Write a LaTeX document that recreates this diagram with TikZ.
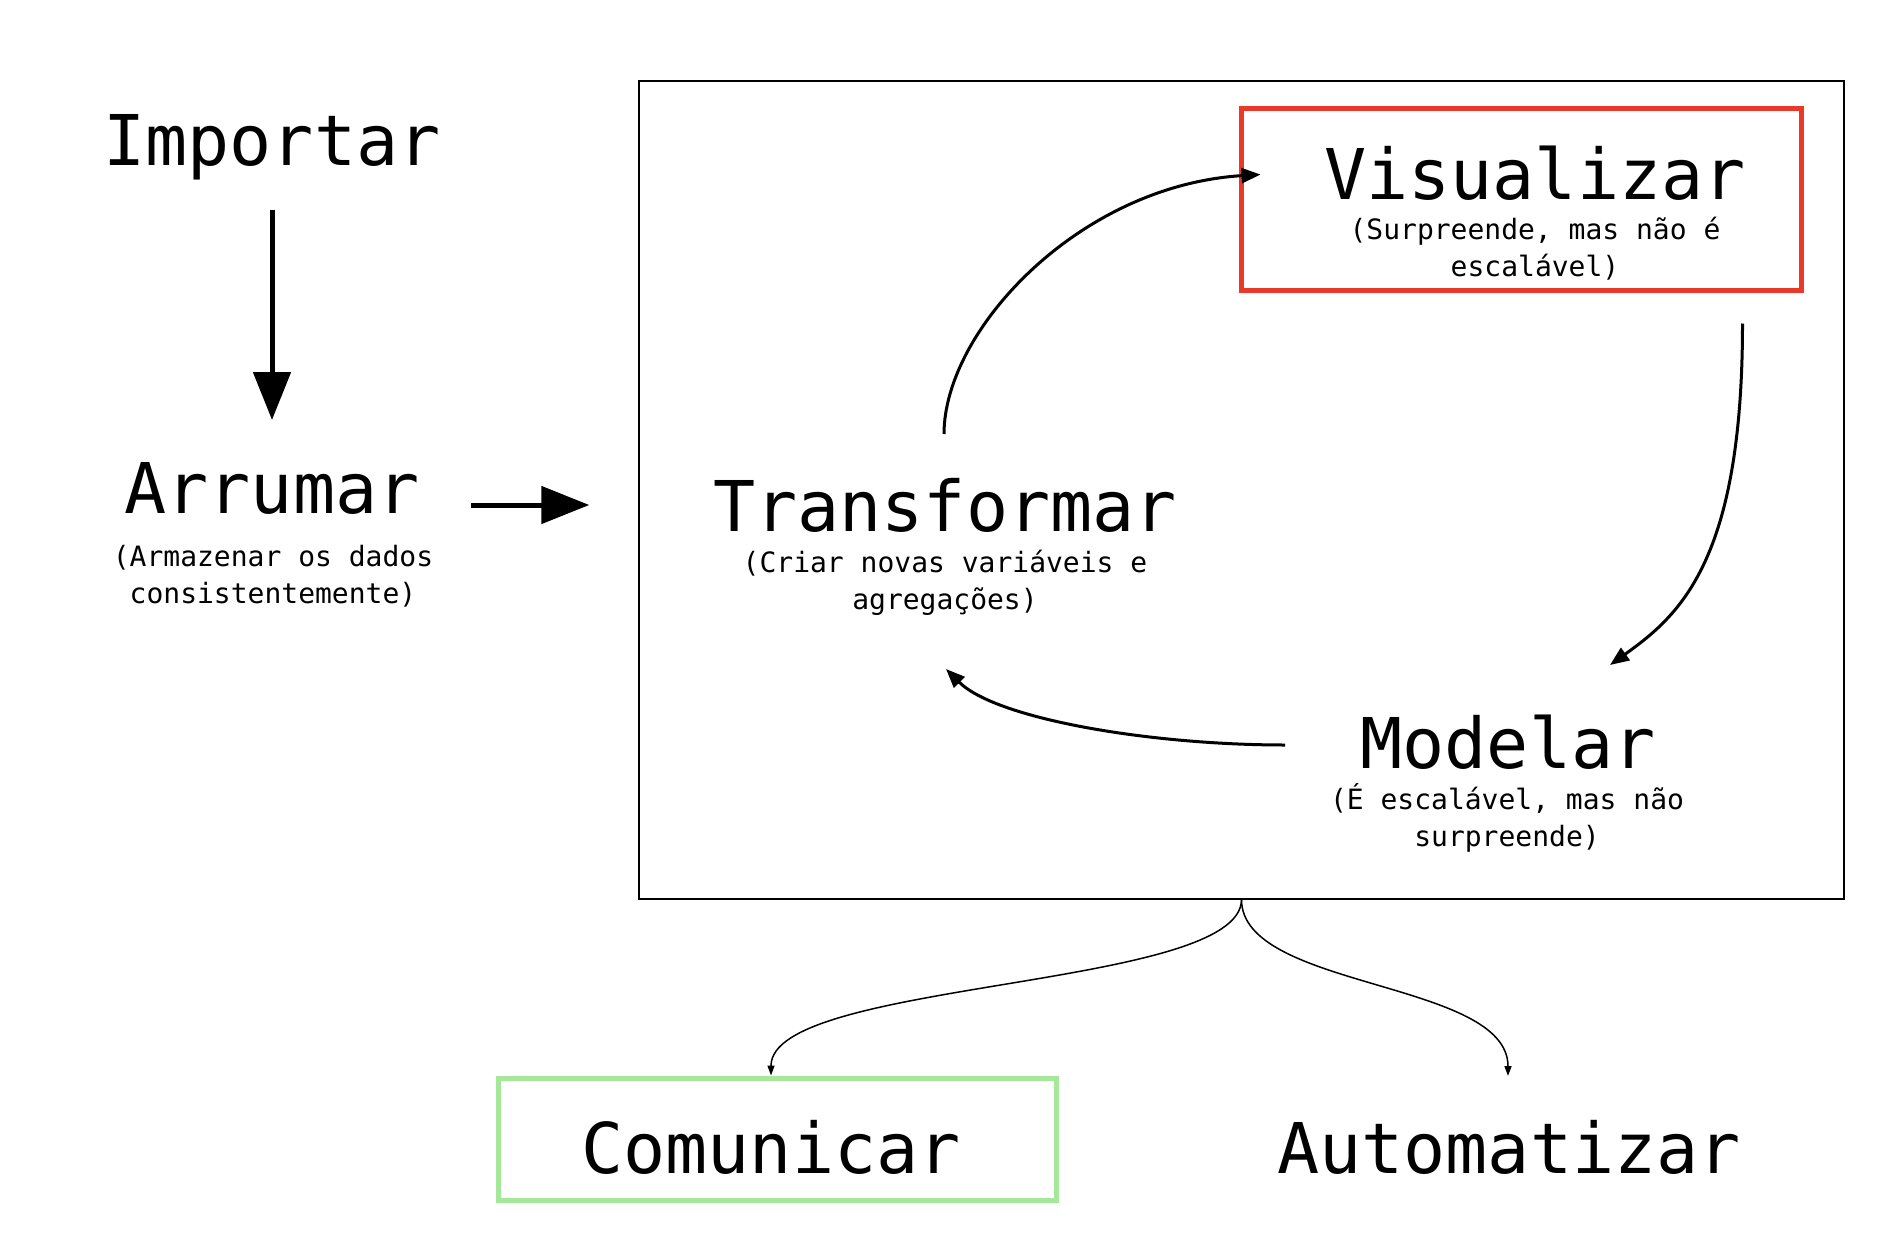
\documentclass[tikz,border=0pt]{standalone}
\usepackage{fontspec}
\newfontfamily\dmono{DejaVu Sans Mono}
\usetikzlibrary{arrows.meta,calc}
\definecolor{boxred}{RGB}{234,57,41}
\definecolor{boxgreen}{RGB}{166,232,154}
\begin{document}
\begin{tikzpicture}[x=1pt,y=-1pt,
  ttl/.style={font=\dmono\fontsize{70}{84}\selectfont, inner sep=0pt, anchor=base},
  subt/.style={font=\dmono\fontsize{28}{37}\selectfont, inner sep=0pt, anchor=base, align=center},
  bigarrow/.style={line width=5pt, -{Triangle[length=48pt,width=37pt]}},
  cyc/.style={line width=3pt, -{Triangle[length=19pt,width=15pt]}},
  forkarrow/.style={line width=1.5pt, -{Triangle[length=10pt,width=7pt]}},
  frame/.style={draw, line width=1.5pt, inner sep=0pt},
  hlbox/.style={line width=5pt, inner sep=0pt},
]
\fill[white] (0,0) rectangle (1880,1236);
\useasboundingbox (0,0) rectangle (1880,1236);

\node[frame, minimum width=1205pt, minimum height=817.5pt] (box) at (1241.5,490) {};
\node[hlbox, draw=boxred, minimum width=560pt, minimum height=181pt] (visbox) at (1521,199.5) {};
\node[hlbox, draw=boxgreen, minimum width=558pt, minimum height=122pt] (combox) at (777,1139) {};

\node[ttl] (imp) at (272,165) {Importar};
\node[ttl] (arr) at (272,513) {Arrumar};
\node[subt] (arrs) at (273,603) {(Armazenar os dados\\consistentemente)};
\node[ttl] (tra) at (945,531) {Transformar};
\node[subt] (tras) at (945,609) {(Criar novas variáveis e\\agregações)};
\node[ttl] (vis) at (1535,199) {Visualizar};
\node[subt] (viss) at (1535,276) {(Surpreende, mas não é\\escalável)};
\node[ttl] (mod) at (1508,768) {Modelar};
\node[subt] (mods) at (1507,846) {(É escalável, mas não\\surpreende)};
\node[ttl] (com) at (771,1173) {Comunicar};
\node[ttl] (aut) at (1509,1173) {Automatizar};

\draw[bigarrow] ($(imp.base)+(0,45)$) -- ($(arr.base)+(0,-93)$);
\draw[bigarrow] ($(arr.base)+(199,-8)$) -- ($(box.west)+(-49,15)$);

\draw[cyc] ($(tra.base)+(-1,-97)$) .. controls +(0,-104) and +(-181,11) .. ($(visbox.west)+(22,-25)$);
\draw[cyc] ($(visbox.south east)+(-61,31)$) .. controls +(0,237) and +(70,-50) .. ($(mod.base)+(102,-103)$);
\draw[cyc] ($(mod.base)+(-223,-23)$) .. controls +(-135,0) and +(50,50) .. ($(tra.base)+(1,138)$);

\draw[forkarrow] (box.south) .. controls +(0,90) and +(0,-96) .. ($(combox.north)+(-6,0)$);
\draw[forkarrow] (box.south) .. controls +(0,90) and +(0,-96) .. ($(aut.base)+(-1,-97)$);
\end{tikzpicture}
\end{document}
